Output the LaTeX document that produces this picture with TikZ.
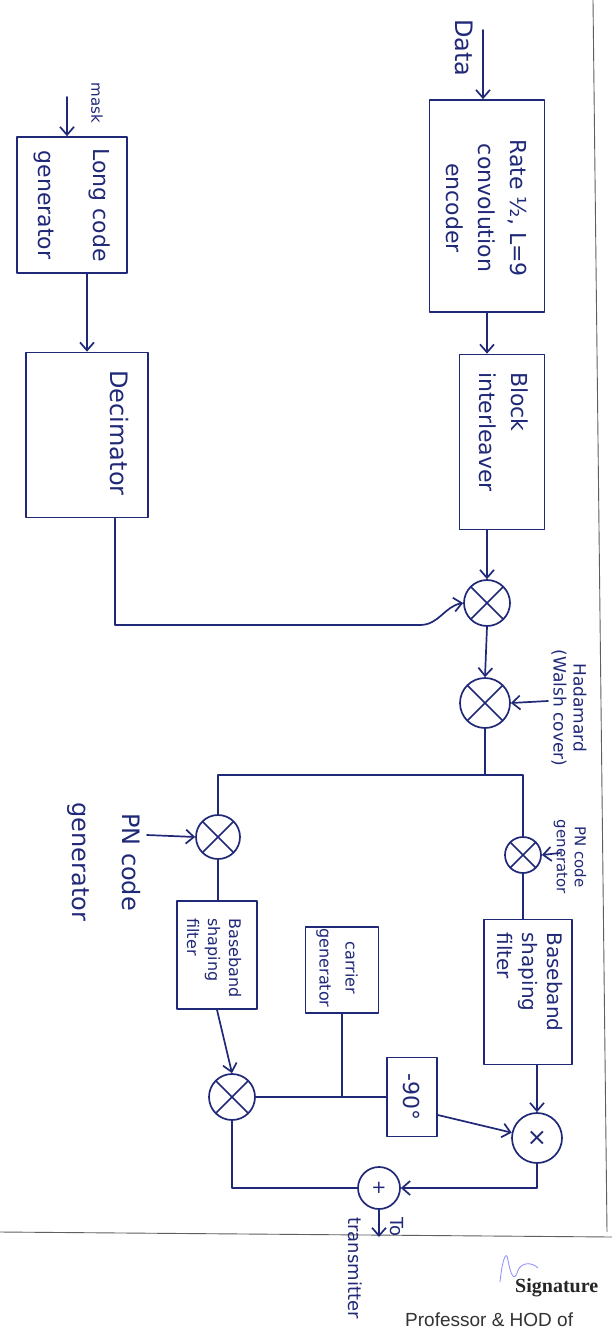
\documentclass[tikz,border=0pt]{standalone}
\usepackage{fontspec}
\setmainfont{DejaVu Sans}
\newfontfamily\printserif{Liberation Serif}
\newfontfamily\printsans{Liberation Sans}
\usetikzlibrary{arrows.meta}
\definecolor{ink}{RGB}{32,40,120}
\definecolor{rulegray}{RGB}{95,95,95}
\newcommand{\fs}[2]{\fontsize{#1}{#2}\selectfont}

\begin{document}
\begin{tikzpicture}[x=1pt,y=-1pt,
  inkline/.style={draw=ink, line width=1.7pt, line cap=round, line join=round},
  arr/.style={inkline, -{Straight Barb[length=8pt,width=14pt]}},
  blk/.style={inkline, rectangle, inner sep=0pt},
  mixer/.style={inkline, circle, inner sep=0pt, minimum size=#1,
    path picture={\draw[ink, line width=1.6pt]
      (path picture bounding box.north west) -- (path picture bounding box.south east)
      (path picture bounding box.north east) -- (path picture bounding box.south west);}},
  ring/.style={inkline, circle, inner sep=0pt, minimum size=#1, text=ink},
  lbl/.style={text=ink, rotate=-90, inner sep=0pt}
]
\useasboundingbox (0,0) rectangle (612,1332);
\clip (0,0) rectangle (612,1332);
\fill[white] (0,0) rectangle (612,1332);

% page frame of the answer sheet
\draw[rulegray, line width=0.9pt] (593,0) -- (607,1232);
\draw[rulegray, line width=0.9pt] (0,1232) -- (612,1237);
\node[anchor=base west, inner sep=0pt, text=black!85, font=\printserif\bfseries\fs{20}{20}] (sig) at (515,1292) {Signature};
\node[anchor=base west, inner sep=0pt, text=black!80, font=\printsans\fs{19}{19}] (prof) at (405,1326) {Professor \& HOD of};
\draw[blue!45, line width=0.8pt] (500,1282) .. controls (502,1262) and (506,1248) .. (508,1260)
  .. controls (510,1272) and (514,1285) .. (518,1270) .. controls (522,1262) and (532,1262) .. (538,1268);

% signal chain blocks
\node[blk, minimum width=115, minimum height=212] (enc)  at (487,206) {};
\node[blk, minimum width=85,  minimum height=175] (intl) at (502,442) {};
\node[blk, minimum width=110, minimum height=136] (lcg)  at (72,205) {};
\node[blk, minimum width=122, minimum height=165] (dec)  at (87,435) {};
\node[mixer=46] (m1) at (487,603) {};
\node[mixer=50] (m2) at (485,703) {};
\node[mixer=36] (m3) at (523,855) {};
\node[mixer=44] (m4) at (218,837) {};
\node[blk, minimum width=88, minimum height=145] (bsfR) at (528,992) {};
\node[blk, minimum width=80, minimum height=108] (bsfL) at (217,955) {};
\node[blk, minimum width=73, minimum height=86]  (car)  at (342,970) {};
\node[blk, minimum width=50, minimum height=79]  (ph)   at (412,1097) {};
\node[ring=50, font=\fs{24}{24}] (m5) at (537,1138) {×};
\node[mixer=46] (m6) at (232,1097) {};
\node[ring=42, font=\fs{18}{18}] (add) at (379,1188) {+};

% free ends
\coordinate (dataIn) at (483,30);
\coordinate (maskIn) at (67,97);
\coordinate (hadIn)  at (548,701);
\coordinate (pnR)    at (560,853);
\coordinate (pnL)    at (147,835);
\coordinate (split)  at (485,775);
\coordinate (txOut)  at (379,1237);

% labels
\node[lbl, font=\fs{24}{24}] (tData) at (464,48) {Data};
\node[lbl, align=center, font=\fs{22}{32}] (tEnc) at (487,208) {Rate ½, L=9\\convolution\\encoder};
\node[lbl, align=left, font=\fs{22}{32}] (tIntl) at (504,432) {Block\\interleaver};
\node[lbl, font=\fs{15}{15}] (tMask) at (97,103) {mask};
\node[lbl, align=center, font=\fs{22}{55}] (tLcg) at (72,205) {Long code\\generator};
\node[lbl, font=\fs{24}{24}] (tDec) at (119,433) {Decimator};
\node[lbl, align=center, font=\fs{17}{20}] (tHad) at (569,708) {Hadamard\\(Walsh cover)};
\node[lbl, align=center, font=\fs{15}{18}] (tPnR) at (570,857) {PN code\\generator};
\node[lbl, align=center, font=\fs{24}{50}] (tPnL) at (104,862) {PN code\\generator};
\node[lbl, align=left, font=\fs{20}{25}] (tBsfR) at (530,982) {Baseband\\shaping\\filter};
\node[lbl, align=left, font=\fs{16}{21}] (tBsfL) at (214,958) {Baseband\\shaping\\filter};
\node[lbl, align=center, font=\fs{16}{26}] (tCar) at (337,968) {carrier\\generator};
\node[lbl, font=\fs{22}{22}] (tPh) at (412,1097) {-90°};
\node[lbl, align=left, font=\fs{18}{42}] (tTx) at (376,1268) {To\\transmitter};

% connectors
\draw[arr] (dataIn) -- (dataIn |- enc.north);
\draw[arr] (enc.south) -- (enc.south |- intl.north);
\draw[arr] (m1 |- intl.south) -- (m1.north);
\draw[arr] (m1.south) -- (m2.north);
\draw[arr] (maskIn) -- (maskIn |- lcg.north);
\draw[arr] (lcg.south -| dec.north) -- (dec.north);
\draw[arr] ([xshift=28pt]dec.south) |- (420,625) to[out=0,in=190] (m1.west);
\draw[arr] (hadIn) -- (m2.east);
\draw[inkline] (m2.south) -- (split);
\draw[inkline] (m4.north) |- (split) -| (m3.north);
\draw[arr] (pnR) -- (m3.east);
\draw[arr] (pnL) -- (m4.west);
\draw[inkline] (m3.south) -- (m3.south |- bsfR.north);
\draw[inkline] (m4.south) -- (m4.south |- bsfL.north);
\draw[arr] (m5 |- bsfR.south) -- (m5.north);
\draw[arr] (bsfL.south) -- (m6.north);
\draw[inkline] (m6.east) -- (ph.west);
\draw[inkline] (car.south) -- (car.south |- m6.east);
\draw[arr] ([yshift=-18pt]ph.east) -- (m5.168);
\draw[arr] (m5.south) |- (add.east);
\draw[inkline] (m6.south) |- (add.west);
\draw[arr] (add.south) -- (txOut);
\end{tikzpicture}
\end{document}
